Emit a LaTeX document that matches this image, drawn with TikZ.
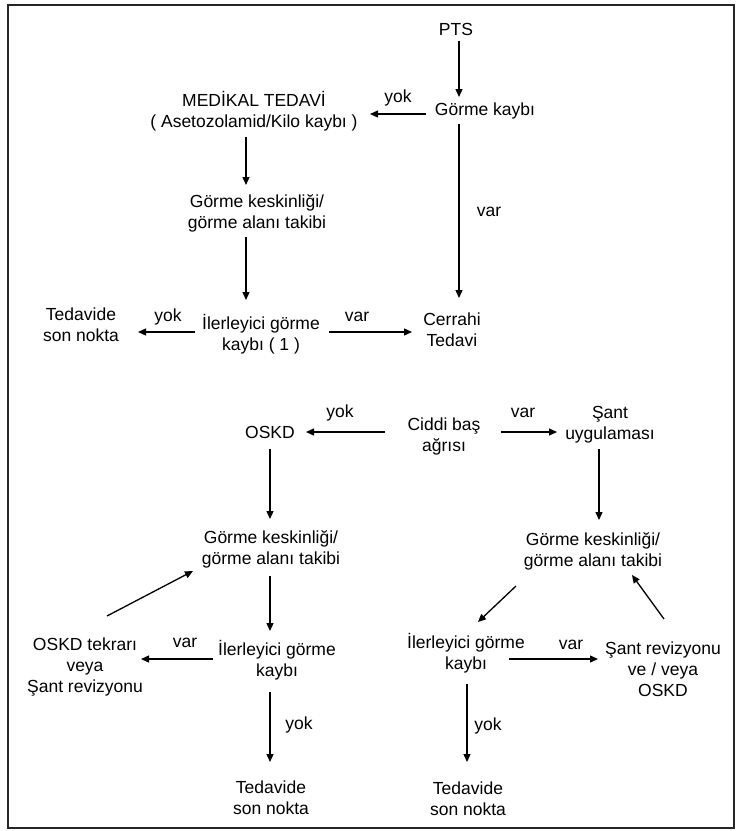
\documentclass[tikz,border=0pt]{standalone}
\usepackage{fontspec}
\setmainfont{Liberation Sans}
\usetikzlibrary{arrows.meta,calc}
\begin{document}
\begin{tikzpicture}[x=1pt,y=-1pt,
  txt/.style={inner sep=0pt,align=center,font=\fontsize{17.5}{21}\selectfont},
  lbl/.style={inner sep=0pt,font=\fontsize{17.5}{21}\selectfont},
  arr/.style={line width=1.3pt,-{Triangle[length=8pt,width=7pt]}},
  frame/.style={line width=2.2pt,draw=black!85}]
\useasboundingbox[fill=white] (0,0) rectangle (743,831);
\draw[frame] (8,5) rectangle (734,828);
% nodes
\node[txt] (pts) at (456,29) {PTS};
\node[txt] (gk) at (485,111) {Görme kaybı};
\node[txt] (med) at (254,111) {MEDİKAL TEDAVİ\\( Asetozolamid/Kilo kaybı )};
\node[txt] (gk1) at (257,213) {Görme keskinliği/\\görme alanı takibi};
\node[txt] (il1) at (261,334) {İlerleyici görme\\kaybı ( 1 )};
\node[txt] (ted1) at (81,325) {Tedavide\\son nokta};
\node[txt] (cer) at (452,330) {Cerrahi\\Tedavi};
\node[txt] (cid) at (444,436) {Ciddi baş\\ağrısı};
\node[txt] (oskd) at (270,432) {OSKD};
\node[txt] (sant) at (610,425) {Şant\\uygulaması};
\node[txt] (gk2) at (271,549) {Görme keskinliği/\\görme alanı takibi};
\node[txt] (gk3) at (593,551) {Görme keskinliği/\\görme alanı takibi};
\node[txt] (il2) at (277,660) {İlerleyici görme\\kaybı};
\node[txt] (osk2) at (85,667) {OSKD tekrarı\\veya\\Şant revizyonu};
\node[txt] (il3) at (466,653) {İlerleyici görme\\kaybı};
\node[txt] (srev) at (663,669) {Şant revizyonu\\ve / veya\\OSKD};
\node[txt] (ted2) at (271,798) {Tedavide\\son nokta};
\node[txt] (ted3) at (468,799) {Tedavide\\son nokta};
% labels
\node[lbl] (l1) at (398,98) {yok};
\node[lbl] (l2) at (489,212) {var};
\node[lbl] (l3) at (168,317) {yok};
\node[lbl] (l4) at (357,317) {var};
\node[lbl] (l5) at (340,413) {yok};
\node[lbl] (l6) at (523,413) {var};
\node[lbl] (l7) at (185,643) {var};
\node[lbl] (l8) at (571,645) {var};
\node[lbl] (l9) at (299,725) {yok};
\node[lbl] (l10) at (488,726) {yok};
% connectors
\draw[arr] ($(pts)+(3,12)$) -- ($(gk)+(-26,-14)$);
\draw[arr] ($(gk)+(-59,3)$) -- ($(med)+(116,3)$);
\draw[arr] ($(med)+(-8,26)$) -- ($(gk1)+(-11,-28)$);
\draw[arr] ($(gk1)+(-11,24)$) -- ($(il1)+(-15,-34)$);
\draw[arr] ($(il1)+(-66,-2)$) -- ($(ted1)+(57,7)$);
\draw[arr] ($(il1)+(68,-2)$) -- ($(cer)+(-40,2)$);
\draw[arr] ($(gk)+(-26,13)$) -- ($(cer)+(7,-32)$);
\draw[arr] ($(cid)+(-59,-4)$) -- ($(oskd)+(36,0)$);
\draw[arr] ($(cid)+(57,-4)$) -- ($(sant)+(-53,7)$);
\draw[arr] ($(oskd)+(0,17)$) -- ($(gk2)+(-1,-30)$);
\draw[arr] ($(sant)+(-11,24)$) -- ($(gk3)+(6,-31)$);
\draw[arr] ($(gk2)+(-1,27)$) -- ($(il2)+(-7,-29)$);
\draw[arr] ($(il2)+(-64,-1)$) -- ($(osk2)+(56,-8)$);
\draw[arr] ($(osk2)+(22,-51)$) -- ($(gk2)+(-78,22)$);
\draw[arr] ($(il2)+(-7,32)$) -- ($(ted2)+(-1,-36)$);
\draw[arr] ($(gk3)+(-77,35)$) -- ($(il3)+(12,-31)$);
\draw[arr] ($(il3)+(43,6)$) -- ($(srev)+(-65,-10)$);
\draw[arr] ($(srev)+(1,-50)$) -- ($(gk3)+(39,24)$);
\draw[arr] ($(il3)+(1,31)$) -- ($(ted3)+(-1,-37)$);
\end{tikzpicture}
\end{document}
